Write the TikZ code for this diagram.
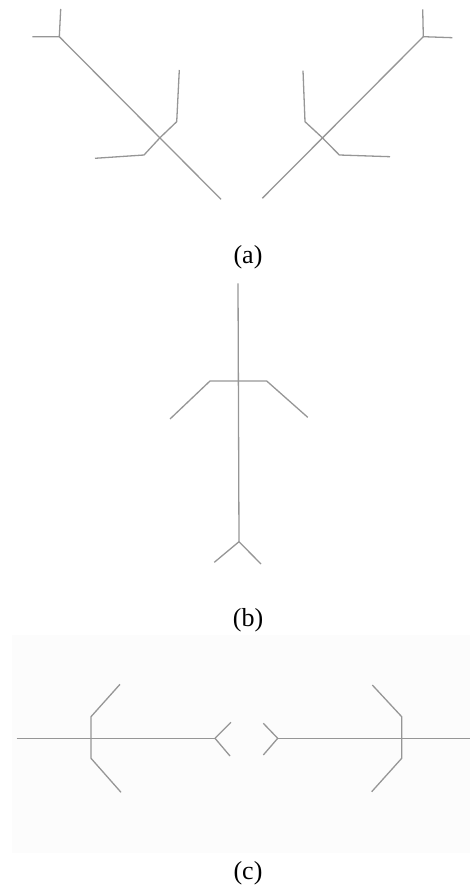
\documentclass[tikz,border=0pt]{standalone}
\usepackage{fontspec}
\setmainfont{Liberation Serif}
\usepackage{xcolor}
\definecolor{limbgray}{RGB}{150,150,150}
\definecolor{panelbg}{RGB}{252,252,252}
\tikzset{
  limb/.style={draw=limbgray, line width=1.3pt, line join=round},
  caption/.style={font=\fontsize{26}{30}\selectfont, inner sep=0}
}

\begin{document}
\begin{tikzpicture}[x=1pt,y=-1pt]
  \useasboundingbox (0,0) rectangle (470,890);
  % (a) two mirrored figures
  \coordinate (headL) at (59.3,36.7);
  \coordinate (hipL) at (160,137.7);
  \draw[limb] (60.7,9) -- (headL) -- (32.3,36.7);
  \draw[limb] (headL) -- (221,199.3);
  \draw[limb] (179.3,70) -- (176.7,121.7) -- (hipL) -- (144,155) -- (95,158.3);
  \coordinate (headR) at (423.3,36.7);
  \coordinate (hipR) at (322.3,137.7);
  \draw[limb] (422.7,9.3) -- (headR) -- (452.3,37.7);
  \draw[limb] (headR) -- (262.3,198.3);
  \draw[limb] (303,70.7) -- (305,121.7) -- (hipR) -- (339.3,155) -- (390,156.7);
  \node[caption] (capA) at (248,257) {(a)};
  % (b) upright figure
  \coordinate (neck) at (238,283.3);
  \coordinate (fork) at (239,541.7);
  \draw[limb] (neck) -- (fork);
  \draw[limb] (170,419) -- (210,381) -- (266.7,381) -- (307.7,417.3);
  \draw[limb] (214.3,562.3) -- (fork) -- (261,564);
  \node[caption] (capB) at (248,620) {(b)};
  % (c) two lying figures
  \fill[panelbg] (12,635) rectangle (470,853);
  \coordinate (forkL) at (215,738.3);
  \coordinate (forkR) at (277.7,738.3);
  \draw[limb] (16.7,738.3) -- (forkL);
  \draw[limb] (120,684.3) -- (91,716.7) -- (91,758.3) -- (121,792.3);
  \draw[limb] (231,722.3) -- (forkL) -- (230,756);
  \draw[limb] (263.3,723.3) -- (forkR) -- (263.3,755);
  \draw[limb] (forkR) -- (470,738.3);
  \draw[limb] (372.3,685) -- (401.7,716.7) -- (401.7,758.3) -- (371.7,791.7);
  \node[caption] (capC) at (248,873) {(c)};
\end{tikzpicture}
\end{document}
